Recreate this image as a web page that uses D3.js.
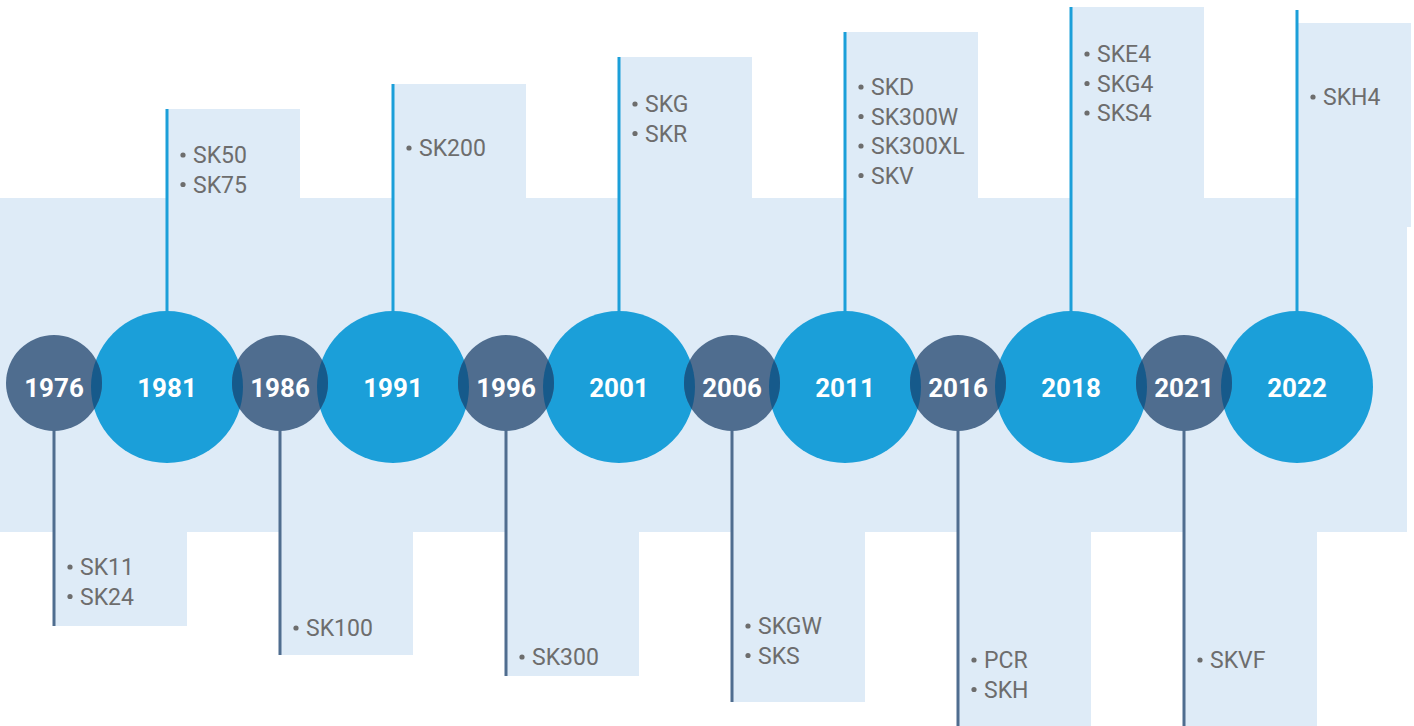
<!DOCTYPE html>
<html>
<head>
<meta charset="utf-8">
<script src="https://cdn.jsdelivr.net/npm/d3@7/dist/d3.min.js"></script>
<style>
  body { margin: 0; background: #fff; }
  svg { display: block; font-family: Roboto, "Open Sans", sans-serif; }
</style>
</head>
<body>
<svg id="chart" width="1414" height="726"></svg>
<script>
// timeline data
var years = ['1976', '1981', '1986', '1991', '1996', '2001', '2006', '2011', '2016', '2018', '2021', '2022'];
var kinds = ['minor', 'major', 'minor', 'major', 'minor', 'major', 'minor', 'major', 'minor', 'major', 'minor', 'major'];
var models = [
    ['SK11', 'SK24'],
    ['SK50', 'SK75'],
    ['SK100'],
    ['SK200'],
    ['SK300'],
    ['SKG', 'SKR'],
    ['SKGW', 'SKS'],
    ['SKD', 'SK300W', 'SK300XL', 'SKV'],
    ['PCR', 'SKH'],
    ['SKE4', 'SKG4', 'SKS4'],
    ['SKVF'],
    ['SKH4']
];

// layout: where each stem/box ends and where its first label sits
var stemEnd = [626, 109, 655, 84, 676, 57, 702, 32, 740, 7, 740, 23];
var labelStart = [567, 155, 628, 148, 657, 104, 626, 87, 660, 54, 660, 97];

var W = 1414, H = 726;
var blue = '#1b9fd9', slate = '#4f6d8f', lens = '#165a8b', band = '#deebf7', grey = '#6d6d6d';
var bandTop = 198, bandBottom = 532, bandRight = 1407, boxW = 133, lineGap = 29.5;

var svg = d3.select('#chart');
var x = d3.scalePoint().domain(years).range([54, 1297]);

var nodes = years.map(function(y, i) {
    var major = kinds[i] === 'major';
    return {
        year: y, i: i, major: major, models: models[i],
        cx: x(y), cy: major ? 387 : 383, r: major ? 76 : 48,
        end: stemEnd[i], label: labelStart[i]
    };
});

// light background band
svg.append('rect')
    .attr('x', 0).attr('y', bandTop)
    .attr('width', bandRight).attr('height', bandBottom - bandTop)
    .attr('fill', band);

// boxes sticking out of the band
svg.selectAll('rect.box').data(nodes).enter().append('rect')
    .attr('class', 'box')
    .attr('x', function(d) { return d.cx; })
    .attr('y', function(d) { return d.major ? d.end : bandBottom - 1; })
    .attr('width', function(d) { return Math.min(boxW, 1411 - d.cx); })
    .attr('height', function(d) {
        return d.major ? (d.cx > 1250 ? 227 : bandTop + 1) - d.end : d.end - bandBottom + 1;
    })
    .attr('fill', band);

// stems
svg.selectAll('line.stem').data(nodes).enter().append('line')
    .attr('class', 'stem')
    .attr('x1', function(d) { return d.cx; })
    .attr('x2', function(d) { return d.cx; })
    .attr('y1', function(d) { return d.cy; })
    .attr('y2', function(d) { return d.major && d.cx > 1250 ? 10 : d.end; })
    .attr('stroke', function(d) { return d.major ? blue : slate; })
    .attr('stroke-width', 3);

// labels
nodes.forEach(function(d) {
    var g = svg.append('g').attr('transform', 'translate(' + d.cx + ',0)');
    d.models.forEach(function(m, k) {
        var yy = d.label + k * lineGap;
        g.append('circle')
            .attr('cx', 16).attr('cy', yy)
            .attr('r', 2.6).attr('fill', grey);
        g.append('text')
            .attr('x', 26).attr('y', yy).attr('dy', '0.35em')
            .attr('font-size', 23).attr('fill', grey)
            .text(m);
    });
});

// circles
var majors = nodes.filter(function(d) { return d.major; });
var minors = nodes.filter(function(d) { return !d.major; });

var defs = svg.append('defs');
majors.forEach(function(d) {
    defs.append('clipPath').attr('id', 'clip-' + d.year)
        .append('circle').attr('cx', d.cx).attr('cy', d.cy).attr('r', d.r);
});

svg.selectAll('circle.major').data(majors).enter().append('circle')
    .attr('class', 'major')
    .attr('cx', function(d) { return d.cx; })
    .attr('cy', function(d) { return d.cy; })
    .attr('r', function(d) { return d.r; })
    .attr('fill', blue);

svg.selectAll('circle.minor').data(minors).enter().append('circle')
    .attr('class', 'minor')
    .attr('cx', function(d) { return d.cx; })
    .attr('cy', function(d) { return d.cy; })
    .attr('r', function(d) { return d.r; })
    .attr('fill', slate);

// darker overlap where neighbours meet
minors.forEach(function(d) {
    [nodes[d.i - 1], nodes[d.i + 1]].forEach(function(n) {
        if (!n) return;
        svg.append('circle')
            .attr('cx', d.cx).attr('cy', d.cy).attr('r', d.r)
            .attr('fill', lens)
            .attr('clip-path', 'url(#clip-' + n.year + ')');
    });
});

// year text
svg.selectAll('text.year').data(nodes).enter().append('text')
    .attr('class', 'year')
    .attr('x', function(d) { return d.cx; })
    .attr('y', 388)
    .attr('dy', '0.35em')
    .attr('text-anchor', 'middle')
    .attr('font-size', 26)
    .attr('font-weight', 'bold')
    .attr('fill', '#fff')
    .text(function(d) { return d.year; });
</script>
</body>
</html>
